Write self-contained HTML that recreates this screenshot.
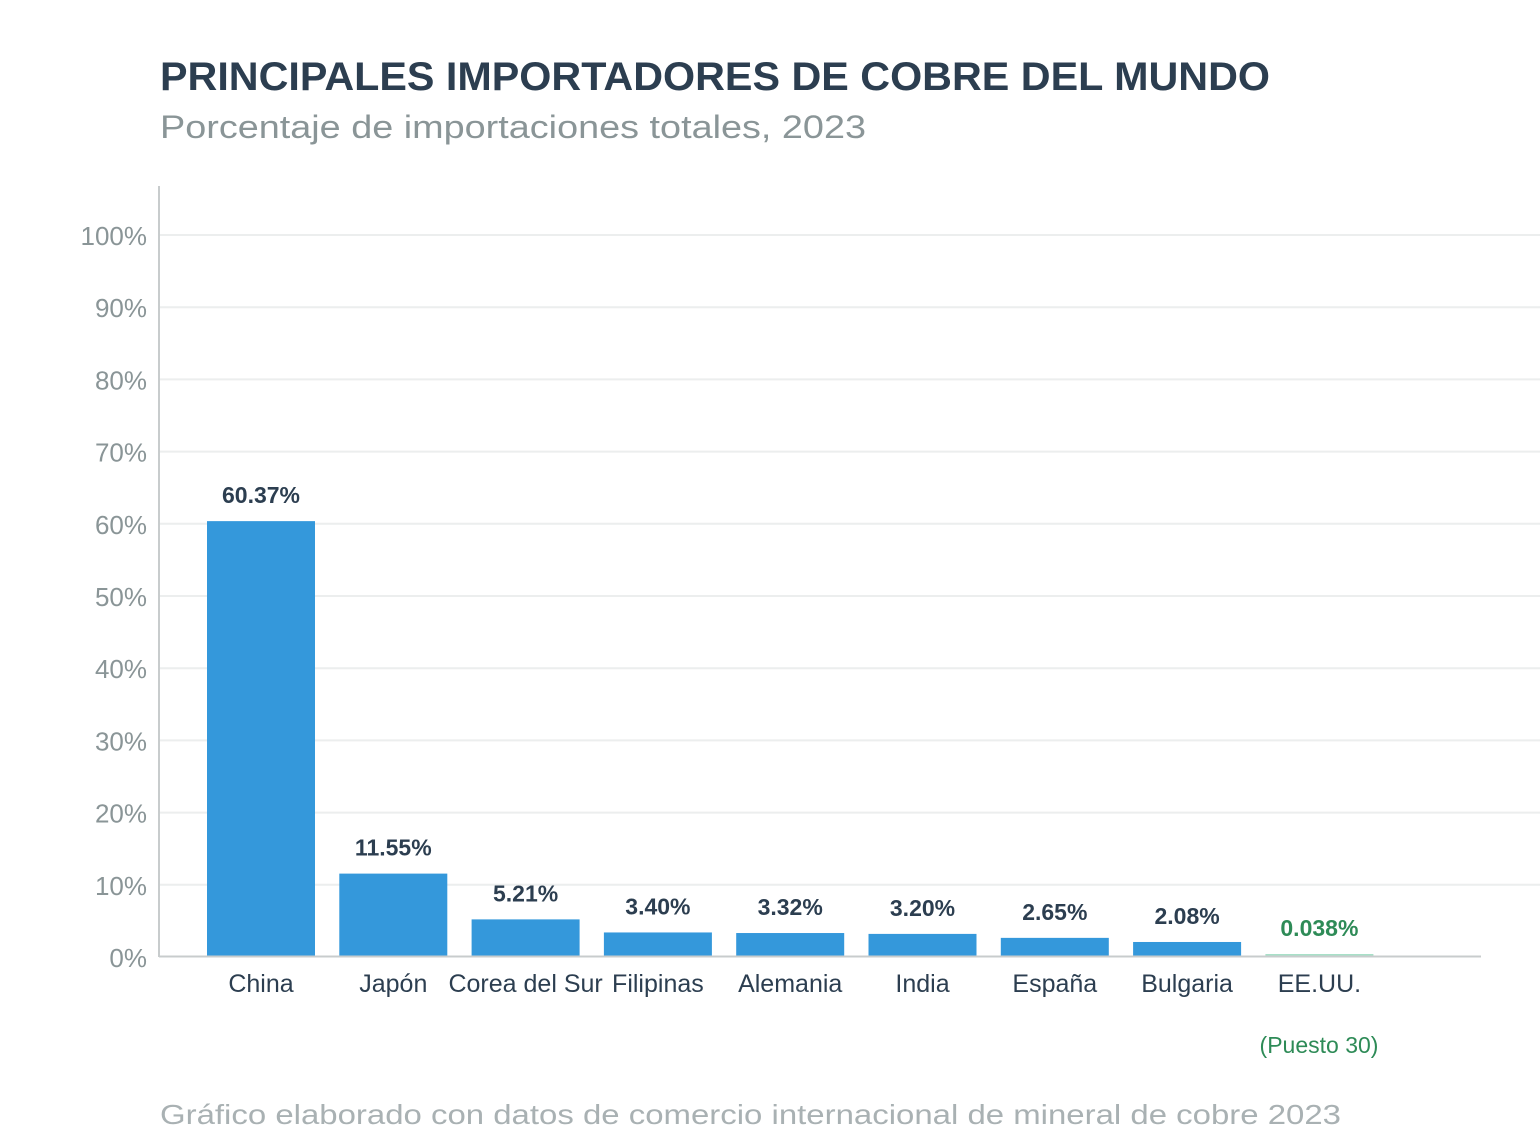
<!DOCTYPE html>
<html><head><meta charset="utf-8"><style>
html,body{margin:0;padding:0;background:#fff;}
svg{display:block;font-family:"Liberation Sans",sans-serif;}
</style></head><body>
<svg id="chart" width="1540" height="1134" viewBox="0 0 1540 1134">
<text x="160" y="90" font-size="40" font-weight="bold" fill="#2c3e50" textLength="1110" lengthAdjust="spacingAndGlyphs">PRINCIPALES IMPORTADORES DE COBRE DEL MUNDO</text>
<text x="160" y="138" font-size="32" fill="#8a9597" textLength="706" lengthAdjust="spacingAndGlyphs">Porcentaje de importaciones totales, 2023</text>
<g id="grid"></g>
<g id="bars"></g>
<line x1="159" y1="186" x2="159" y2="957" stroke="#c8cccd" stroke-width="2"/>
<line x1="159" y1="956.5" x2="1481" y2="956.5" stroke="#c8cccd" stroke-width="2"/>
<text x="1319" y="1053" font-size="23" fill="#2e8b57" text-anchor="middle">(Puesto 30)</text>
<text x="160" y="1124" font-size="28" fill="#a9b1b3" textLength="1181" lengthAdjust="spacingAndGlyphs">Gráfico elaborado con datos de comercio internacional de mineral de cobre 2023</text>
</svg>
<script>
const categories=["China","Japón","Corea del Sur","Filipinas","Alemania","India","España","Bulgaria","EE.UU."];
const values=[60.37,11.55,5.21,3.40,3.32,3.20,2.65,2.08,0.038];
const valueLabels=["60.37%","11.55%","5.21%","3.40%","3.32%","3.20%","2.65%","2.08%","0.038%"];
const ticks=[0,10,20,30,40,50,60,70,80,90,100];
const NS="http://www.w3.org/2000/svg";
const y0=957,pxPer=7.22;
function yScale(v){return y0-v*pxPer;}
function xScale(i){return 261+i*132.3;}
function mk(t,a,p){const e=document.createElementNS(NS,t);for(const k in a)e.setAttribute(k,a[k]);p.appendChild(e);return e;}
const grid=document.getElementById('grid'),bars=document.getElementById('bars');
ticks.forEach(t=>{
  const y=yScale(t);
  if(t>0){const l=mk('line',{x1:160,x2:1540,y1:y,y2:y,stroke:'#eceeee','stroke-width':2},grid);
  
  }
  const tx=mk('text',{x:147,y:y+10,'font-size':26,fill:'#8a9597','text-anchor':'end'},grid);
  tx.textContent=t+'%';
  
  
});
categories.forEach((c,i)=>{
  const cx=xScale(i),last=i===categories.length-1;
  const h=Math.max(values[i]*pxPer,3);
  const r=mk('rect',{x:cx-54,y:y0-h,width:108,height:h,fill:last?'#a8e0c8':'#3498db'},bars);
  
  
  const v=mk('text',{x:cx,y:y0-h-18,'font-size':23,'font-weight':'bold',fill:last?'#2e8b57':'#2c3e50','text-anchor':'middle'},bars);
  v.textContent=valueLabels[i];
  
  
  const l=mk('text',{x:cx,y:992,'font-size':25,fill:'#2c3e50','text-anchor':'middle'},bars);
  l.textContent=c;
  
  
});
</script>
</body></html>
